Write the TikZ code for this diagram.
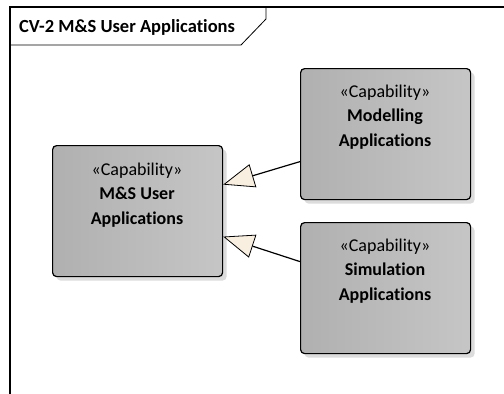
\documentclass[tikz,border=0pt]{standalone}
\usepackage{fontspec}
\setmainfont{Carlito}[Ligatures={NoCommon}]
\usetikzlibrary{arrows.meta,shadows}
\definecolor{cream}{HTML}{F9EFE0}
\definecolor{shadowgray}{HTML}{DCDCDC}
\tikzset{
  capbox/.style={draw=black, line width=1.2pt, rounded corners=4pt,
    left color=gray!62, right color=gray!45,
    minimum width=170pt, minimum height=131pt, anchor=north west,
    inner sep=0pt,
    drop shadow={shadow xshift=4pt, shadow yshift=-4pt, fill=shadowgray, opacity=1}},
  captext/.style={align=center, anchor=center, font=\fontsize{18}{24.5}\selectfont, inner sep=0pt},
  realize/.style={draw=black, line width=1.2pt,
    -{Triangle[length=31pt, width=24pt, fill=cream, line width=0.8pt]}},
  framestyle/.style={draw=black, line width=1.2pt},
}
\begin{document}
\begin{tikzpicture}[x=1pt, y=-1pt]
\useasboundingbox (0,0) rectangle (504,394);
% frame
\coordinate (fa) at (10,394);
\coordinate (fb) at (10,7);
\coordinate (fc) at (504,7);
\coordinate (ta) at (10,45);
\coordinate (tb) at (241,45);
\coordinate (tc) at (266,19);
\coordinate (td) at (266,7);
\draw[framestyle] (fa) -- (fb) -- (fc);
\draw[framestyle, line width=0.8pt] (ta) -- (tb) -- (tc) -- (td);
\node[anchor=west, font=\bfseries\fontsize{18.5}{22}\selectfont, inner sep=0pt] (title) at (19,27) {CV-2 M\&S User Applications};
% boxes
\node[capbox] (b1) at (52,145) {};
\node[capbox] (b2) at (300,68) {};
\node[capbox] (b3) at (300,222) {};
\node[captext] (t1) at (137,195) {«Capability»\\\textbf{M\&S User}\\\textbf{Applications}};
\node[captext] (t2) at (385,117) {«Capability»\\\textbf{Modelling}\\\textbf{Applications}};
\node[captext] (t3) at (385,271) {«Capability»\\\textbf{Simulation}\\\textbf{Applications}};
% connectors
\draw[realize] ([yshift=-27.5pt]b2.west) -- ([yshift=26.5pt]b1.east);
\draw[realize] ([yshift=26.5pt]b3.west) -- ([yshift=-25.5pt]b1.east);
\end{tikzpicture}
\end{document}
